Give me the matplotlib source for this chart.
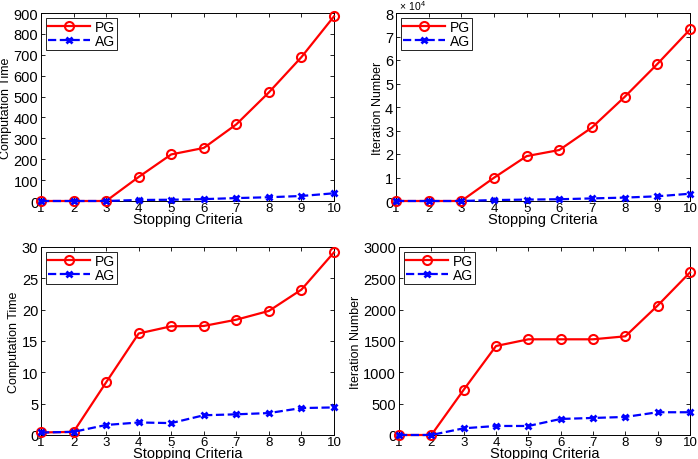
import matplotlib
matplotlib.use("Agg")
import matplotlib.pyplot as plt
from matplotlib.ticker import FuncFormatter

plt.rcParams['font.family'] = ['Liberation Sans', 'DejaVu Sans']
plt.rcParams['mathtext.fontset'] = 'custom'
plt.rcParams['mathtext.rm'] = 'Liberation Sans'

criteria = [1, 2, 3, 4, 5, 6, 7, 8, 9, 10]

time1_pg = [0, 0, 0, 115, 223, 254, 367, 520, 689, 884]
time1_ag = [0, 0, 0, 5, 6, 9, 14, 18, 24, 37]

iter1_pg = [0, 0, 0, 9900, 19100, 21700, 31300, 44300, 58300, 73000]
iter1_ag = [0, 0, 0, 400, 600, 750, 1100, 1450, 2000, 3100]

time2_pg = [0.4, 0.5, 8.4, 16.2, 17.35, 17.4, 18.4, 19.8, 23.2, 29.15]
time2_ag = [0.4, 0.5, 1.6, 2.0, 1.9, 3.15, 3.3, 3.5, 4.3, 4.4]

iter2_pg = [0, 0, 721, 1420, 1527, 1527, 1527, 1575, 2066, 2595]
iter2_ag = [0, 0, 107, 144, 144, 256, 272, 288, 363, 363]

panels = [
    (time1_pg, time1_ag, 'Computation Time', (0, 900), list(range(0, 901, 100)),
     [41, 14, 293, 188], False),
    (iter1_pg, iter1_ag, 'Iteration Number', (0, 80000), list(range(0, 80001, 10000)),
     [396, 14, 294, 188], True),
    (time2_pg, time2_ag, 'Computation Time', (0, 30), list(range(0, 31, 5)),
     [41, 248, 293, 188], False),
    (iter2_pg, iter2_ag, 'Iteration Number', (0, 3000), list(range(0, 3001, 500)),
     [399, 248, 291, 188], False),
]

W, H = 698, 460
fig = plt.figure(figsize=(W / 100, H / 100), dpi=100)

for pg, ag, ylab, ylim, yticks, (x0, y0, w, h), sci in panels:
    ax = fig.add_axes([x0 / W, 1 - (y0 + h) / H, w / W, h / H])
    ax.plot(criteria, pg, '-', color='red', lw=1.6, marker='o', ms=6.5,
            mfc='none', mec='red', mew=1.5, label='PG', clip_on=False, zorder=3)
    ax.plot(criteria, ag, '--', color='blue', lw=1.6, marker='x', ms=4.5,
            mec='blue', mew=2.0, label='AG', clip_on=False, zorder=4)
    ax.set_xticks(criteria)
    ax.set_yticks(yticks)
    ax.set_xlim(1, 10)
    ax.set_ylim(*ylim)
    if sci:
        ax.yaxis.set_major_formatter(FuncFormatter(lambda v, p: '%d' % round(v / 1e4)))
        ax.text(0.01, 1.003, r'$\times\ 10^{4}$', transform=ax.transAxes,
                fontsize=7.5, ha='left', va='bottom')
    ax.tick_params(direction='in', top=True, right=True, length=3, width=0.6)
    ax.tick_params(axis='x', pad=0.5, labelsize=9.5)
    ax.tick_params(axis='y', pad=2, labelsize=10.5)
    for s in ax.spines.values():
        s.set_linewidth(0.7)
    ax.set_xlabel('Stopping Criteria', fontsize=10.5, labelpad=-1)
    ax.set_ylabel(ylab, fontsize=9, labelpad=1)
    leg = ax.legend(loc='upper left', fontsize=10, handlelength=3.0,
                    fancybox=False, framealpha=1, edgecolor='black',
                    borderpad=0.15, labelspacing=0.02, handletextpad=0.4,
                    borderaxespad=0.35)
    leg.get_frame().set_linewidth(0.6)

fig.savefig('out.png', dpi=100)
